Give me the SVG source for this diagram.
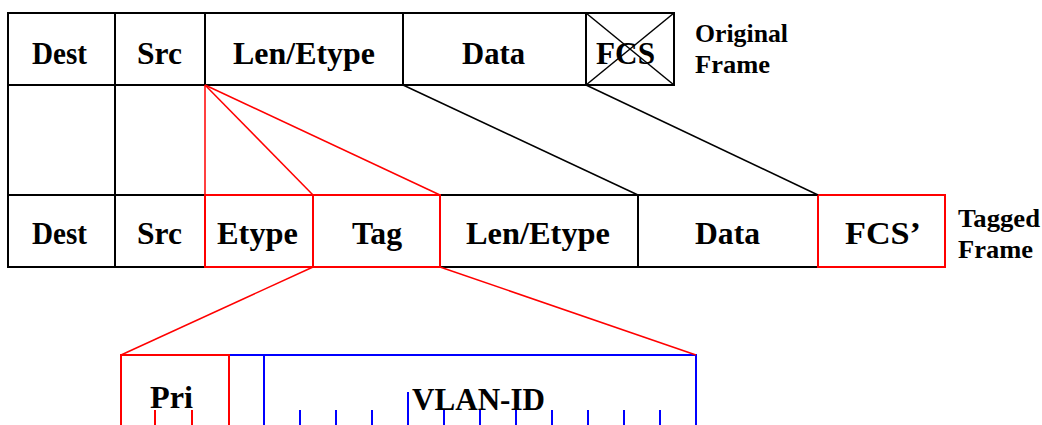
<svg xmlns="http://www.w3.org/2000/svg" width="1042" height="425" viewBox="0 0 1042 425">
<style>
.k{fill:none;stroke:#000;stroke-width:2}
.r{fill:none;stroke:#f00;stroke-width:2}
.b{fill:none;stroke:#00f;stroke-width:2}
.ck{stroke:#000;stroke-width:1.5;fill:none}
.cr{stroke:#f00;stroke-width:1.5;fill:none}
.t{font-family:"Liberation Serif","Times New Roman",serif;font-weight:bold;font-size:32px;fill:#000;text-anchor:middle}
.s{font-family:"Liberation Serif","Times New Roman",serif;font-weight:bold;font-size:26px;fill:#000}
</style>
<rect width="1042" height="425" fill="#fff"/>
<g id="orig-dest"><rect class="k" x="8" y="13" width="107" height="72"/><text class="t" x="59.5" y="64" textLength="55" lengthAdjust="spacingAndGlyphs">Dest</text></g>
<g id="orig-src"><rect class="k" x="115" y="13" width="90" height="72"/><text class="t" x="159.5" y="64" textLength="45" lengthAdjust="spacingAndGlyphs">Src</text></g>
<g id="orig-len"><rect class="k" x="205" y="13" width="198" height="72"/><text class="t" x="304" y="64" textLength="142" lengthAdjust="spacingAndGlyphs">Len/Etype</text></g>
<g id="orig-data"><rect class="k" x="403" y="13" width="183" height="72"/><text class="t" x="493.5" y="64" textLength="63" lengthAdjust="spacingAndGlyphs">Data</text></g>
<g id="orig-fcs"><rect class="k" x="586" y="13" width="88" height="72"/><text class="t" x="625.5" y="64" textLength="59" lengthAdjust="spacingAndGlyphs">FCS</text><line class="ck" x1="586" y1="13" x2="674" y2="85"/><line class="ck" x1="586" y1="85" x2="674" y2="13"/></g>
<g id="orig-label"><text class="s" x="695" y="42" textLength="93" lengthAdjust="spacingAndGlyphs">Original</text><text class="s" x="695" y="73" textLength="75" lengthAdjust="spacingAndGlyphs">Frame</text></g>
<g id="mid-cols"><line class="k" x1="8" y1="85" x2="8" y2="195"/><line class="k" x1="115" y1="85" x2="115" y2="195"/></g>
<g id="tag-dest"><rect class="k" x="8" y="195" width="107" height="72"/><text class="t" x="59.5" y="244" textLength="55" lengthAdjust="spacingAndGlyphs">Dest</text></g>
<g id="tag-src"><rect class="k" x="115" y="195" width="90" height="72"/><text class="t" x="159.5" y="244" textLength="45" lengthAdjust="spacingAndGlyphs">Src</text></g>
<g id="tag-len"><rect class="k" x="440" y="195" width="198" height="72"/><text class="t" x="538" y="244" textLength="144" lengthAdjust="spacingAndGlyphs">Len/Etype</text></g>
<g id="tag-data"><rect class="k" x="638" y="195" width="180" height="72"/><text class="t" x="727.5" y="244" textLength="65" lengthAdjust="spacingAndGlyphs">Data</text></g>
<g id="tag-etype"><rect class="r" x="205" y="195" width="108" height="72"/><text class="t" x="257.5" y="244" textLength="81" lengthAdjust="spacingAndGlyphs">Etype</text></g>
<g id="tag-tag"><rect class="r" x="313" y="195" width="127" height="72"/><text class="t" x="377" y="244" textLength="50" lengthAdjust="spacingAndGlyphs">Tag</text></g>
<g id="tag-fcs"><rect class="r" x="818" y="195" width="127" height="72"/><text class="t" x="883" y="244" textLength="76" lengthAdjust="spacingAndGlyphs">FCS’</text></g>
<g id="tag-label"><text class="s" x="958" y="227" textLength="82" lengthAdjust="spacingAndGlyphs">Tagged</text><text class="s" x="958" y="258" textLength="75" lengthAdjust="spacingAndGlyphs">Frame</text></g>
<g id="vlan"><path class="b" d="M229 355H696V430M264 355V430"/><path class="b" d="M300 410V430M336 410V430M372 410V430M408 392V430M444 410V430M480 410V430M516 410V430M552 410V430M588 410V430M624 410V430M660 410V430"/><text class="t" x="478.5" y="410" textLength="133" lengthAdjust="spacingAndGlyphs">VLAN-ID</text></g>
<g id="pri"><path class="r" d="M121 430V355H229V430M155 410V430M192 410V430"/><text class="t" x="171.5" y="408" textLength="43" lengthAdjust="spacingAndGlyphs">Pri</text></g>
<g id="connectors">
<line class="cr" x1="205" y1="85" x2="205" y2="195"/>
<line class="cr" x1="205" y1="85" x2="313" y2="195"/>
<line class="cr" x1="205" y1="85" x2="440" y2="195"/>
<line class="ck" x1="403" y1="85" x2="638" y2="195"/>
<line class="ck" x1="586" y1="85" x2="818" y2="195"/>
<line class="cr" x1="313" y1="267" x2="121" y2="355"/>
<line class="cr" x1="440" y1="267" x2="696" y2="355"/>
</g>
</svg>
